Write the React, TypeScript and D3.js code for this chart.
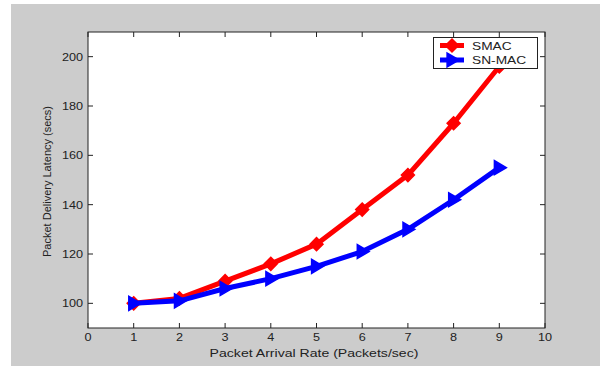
import React from 'react';
import * as d3 from 'd3';

const rates = [1, 2, 3, 4, 5, 6, 7, 8, 9];
const smac = [100, 102, 109, 116, 124, 138, 152, 173, 196];
const snmac = [100, 101, 106, 110, 115, 121, 130, 142, 155];
const xTicks = [0, 1, 2, 3, 4, 5, 6, 7, 8, 9, 10];
const yTicks = [100, 120, 140, 160, 180, 200];

const W = 600;
const H = 366;
const box = { left: 88, right: 545, top: 32, bottom: 328 };
const font = 'Liberation Sans, Arial, Helvetica, sans-serif';
const ink = '#222';

const diamond = (size: number) => `M0,${-size}L${size},0L0,${size}L${-size},0Z`;
const triRight = (size: number) => `M${size},0L${-size * 0.7},${-size}L${-size * 0.7},${size}Z`;

// the reference looks horizontally stretched, so text gets a little x-scale
const SText = ({ x, y, anchor = 'start', size = 11, sx = 1.2, children }: any) => (
  <g transform={`translate(${x},${y}) scale(${sx},1)`}>
    <text textAnchor={anchor} fontFamily={font} fontSize={size} fill={ink}>{children}</text>
  </g>
);

export default function App() {
  const x = d3.scaleLinear().domain([0, 10]).range([box.left, box.right]);
  const y = d3.scaleLinear().domain([90, 210]).range([box.bottom, box.top]);

  const line = d3.line<number>()
    .x((_, i) => x(rates[i]))
    .y(d => y(d));

  const series = [
    { name: 'SMAC', values: smac, color: '#ff0000', marker: diamond(6.5) },
    { name: 'SN-MAC', values: snmac, color: '#0000ff', marker: triRight(7) },
  ];

  return (
    <svg width={W} height={H} style={{ position: 'fixed', left: 0, top: 0 }}>
      <rect x={0} y={0} width={W} height={H} fill="#fff" />
      <rect x={11} y={4} width={W - 11} height={H - 4} fill="#cccccc" />
      <rect x={box.left} y={box.top} width={box.right - box.left} height={box.bottom - box.top} fill="#fff" />

      {/* ticks, all four sides pointing inward */}
      {xTicks.map(t => (
        <g key={'x' + t}>
          <line x1={x(t)} x2={x(t)} y1={box.bottom} y2={box.bottom - 5} stroke={ink} />
          <line x1={x(t)} x2={x(t)} y1={box.top} y2={box.top + 5} stroke={ink} />
          <SText x={x(t)} y={341} anchor="middle" sx={1.15}>{t}</SText>
        </g>
      ))}
      {yTicks.map(t => (
        <g key={'y' + t}>
          <line x1={box.left} x2={box.left + 5} y1={y(t)} y2={y(t)} stroke={ink} />
          <line x1={box.right} x2={box.right - 5} y1={y(t)} y2={y(t)} stroke={ink} />
          <SText x={83} y={y(t) + 4} anchor="end" sx={1.15}>{t}</SText>
        </g>
      ))}

      {/* series */}
      {series.map(s => (
        <g key={s.name}>
          <path d={line(s.values) || ''} fill="none" stroke={s.color} strokeWidth={5} strokeLinejoin="round" />
          {s.values.map((v, i) => (
            <path key={i} d={s.marker} transform={`translate(${x(rates[i])},${y(v)})`}
              fill={s.color} stroke={s.color} strokeWidth={1.5} />
          ))}
        </g>
      ))}

      <rect x={box.left} y={box.top} width={box.right - box.left} height={box.bottom - box.top}
        fill="none" stroke={ink} strokeWidth={1} />

      {/* legend */}
      <rect x={433.5} y={37.5} width={104} height={31} fill="#fff" stroke={ink} strokeWidth={1} />
      {series.map((s, i) => {
        const ly = 45.5 + i * 14.5;
        return (
          <g key={'lg' + s.name}>
            <line x1={440} x2={464} y1={ly} y2={ly} stroke={s.color} strokeWidth={5} />
            <path d={s.marker} transform={`translate(452,${ly})`} fill={s.color} stroke={s.color} strokeWidth={1.5} />
            <SText x={472} y={ly + 4} sx={1.25}>{s.name}</SText>
          </g>
        );
      })}

      <SText x={314} y={357} anchor="middle" sx={1.28}>Packet Arrival Rate (Packets/sec)</SText>
      <text transform={`translate(51,${181.5}) rotate(-90)`} textAnchor="middle"
        fontFamily={font} fontSize={11} fill={ink}>
        Packet Delivery Latency (secs)
      </text>
    </svg>
  );
}
